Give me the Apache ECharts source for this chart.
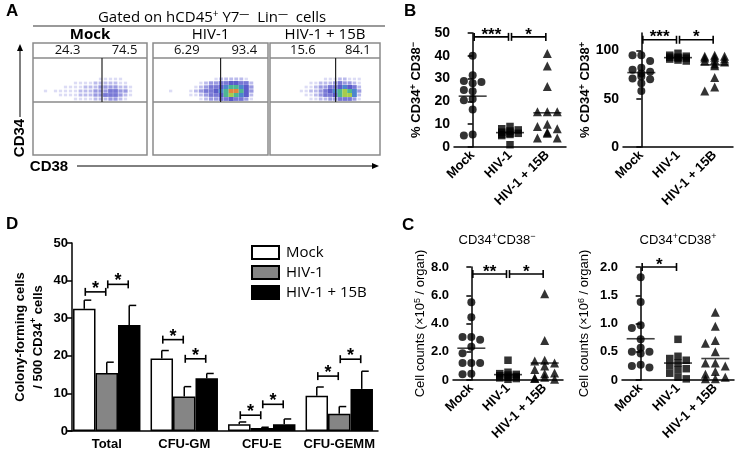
<!DOCTYPE html>
<html><head><meta charset="utf-8">
<script src="https://cdn.jsdelivr.net/npm/echarts@6/dist/echarts.min.js"></script>
<style>html,body{margin:0;padding:0;background:#fff}#c{width:737px;height:452px}</style>
</head><body><div id="c"></div><script>
// ================= DATA =================
const groups = ['Mock', 'HIV-1', 'HIV-1 + 15B'];

// Panel A: flow cytometry (quadrant percentages, CD38 gate, density read per bin, 0-9)
const flowPercents = [[24.3, 74.5], [6.29, 93.4], [15.6, 84.1]];
const flowGateX = [69, 67, 68];
const flowGateY = 53;
const flowStripY = 97;
const flowDensityMock = [
  '0000000000000111110000',
  '0000000011112222211000',
  '0000001111222333322100',
  '0010111112223334433100',
  '0000011112223344432100',
  '0000000011112223321000'];
const flowDensityHIV = [
  '0000000000001222221000',
  '0000000001233445544200',
  '0000000012344567765300',
  '0001000123445679975300',
  '0000000112344578765200',
  '0000000001233445443100'];
const flowDensity15B = [
  '0000000000011122111000',
  '0000000011222343321000',
  '0000000112334456542000',
  '0000001122345678763000',
  '0000000112344578862000',
  '0000000011223344431000'];

// Panel B: % CD34+ CD38- and % CD34+ CD38+
const pctNegMock = [40, 31.5, 29, 28.5, 28, 25, 24.5, 21, 20.5, 16.5, 5.5, 5];
const pctNegHIV = [9, 8, 7.5, 7, 6.5, 6, 6, 5.5, 5.5, 5, 1];
const pctNeg15B = [41, 35.5, 26.5, 15.5, 15.5, 15.5, 10, 9, 8, 6.5, 6, 4, 4];
const pctNegMean = [22.3, 6.3, 15];
const pctNegSig = [[0, 1, 48.3], [1, 2, 48.3]];
const pctNegSigText = ['***', '*'];

const pctPosMock = [95, 95, 89, 82, 80, 78, 76, 73, 71, 70, 66, 58];
const pctPosHIV = [97, 95, 94, 93, 93, 92, 92, 91, 90, 89];
const pctPos15B = [95, 94, 94, 93, 92, 91, 90, 89, 88, 86, 84, 72, 62, 58];
const pctPosMean = [77, 92.5, 85];
const pctPosSig = [[0, 1, 111], [1, 2, 111]];
const pctPosSigText = ['***', '*'];

// Panel C: cell counts
const cntNegMock = [5.5, 4.45, 3.05, 3.05, 2.85, 2.35, 1.9, 1.2, 1.2, 1.2, 0.45, 0.4];
const cntNegHIV = [1.4, 0.55, 0.45, 0.4, 0.35, 0.3, 0.25, 0.2, 0.15, 0.1, 0.05];
const cntNeg15B = [6.1, 2.8, 1.4, 1.35, 1.2, 1.0, 0.75, 0.5, 0.45, 0.2, 0.15, 0.1, 0.05];
const cntNegMean = [2.25, 0.38, 1.2];
const cntNegSig = [[0, 1, 7.5], [1, 2, 7.5]];
const cntNegSigText = ['**', '*'];

const cntPosMock = [1.82, 1.38, 0.97, 0.92, 0.72, 0.57, 0.5, 0.5, 0.47, 0.27, 0.25, 0.22];
const cntPosHIV = [0.72, 0.42, 0.38, 0.35, 0.3, 0.25, 0.2, 0.18, 0.12, 0.05, 0.02];
const cntPos15B = [1.2, 0.95, 0.7, 0.65, 0.5, 0.3, 0.3, 0.25, 0.15, 0.1, 0.05, 0.02, 0.02];
const cntPosMean = [0.73, 0.3, 0.38];
const cntPosSig = [[0, 1, 2.0]];
const cntPosSigText = ['*'];

// Panel D: colony-forming cells (mean, SEM)
const cfuCategories = ['Total', 'CFU-GM', 'CFU-E', 'CFU-GEMM'];
const cfuMock = [32.5, 19.3, 1.8, 9.4];
const cfuMockSem = [2.3, 2.1, 0.6, 2.3];
const cfuHIV = [15.4, 9.2, 0.8, 4.6];
const cfuHIVSem = [2.9, 2.6, 0.2, 1.9];
const cfu15B = [28.2, 14.0, 1.8, 11.2];
const cfu15BSem = [5.2, 1.3, 1.4, 4.7];
const cfuSig = [[0, 0, 1, 37], [0, 1, 2, 39], [1, 0, 1, 24.3], [1, 1, 2, 19.2],
                [2, 0, 1, 4.2], [2, 1, 2, 7.1], [3, 0, 1, 14.6], [3, 1, 2, 19.1]];

// ================= LAYOUT / STYLE =================
const FF = "'Liberation Sans', Arial, sans-serif";
const FF2 = "'Open Sans', 'Liberation Sans', sans-serif";
const flowPalette = ['', '#d8d8f4', '#b4b4ea', '#8e8ede', '#6868d0', '#4a4ac4', '#3a78c8', '#3aae86', '#9cc63a', '#e0782a'];
const flowLayout = {top: 43, height: 112, boxes: [{left: 33, width: 114}, {left: 153, width: 115}, {left: 270, width: 110}]};
const flowRange = {x: 114, y: 112};
const dotPanels = [
  {left: 454, top: 33, width: 112, height: 114, max: 50, ticks: [0, 10, 20, 30, 40, 50], fmt: v => String(v), fs: 14, nameGap: 30,
   name: '% CD34{sp|+} CD38{sp|−}', data: [pctNegMock, pctNegHIV, pctNeg15B], mean: pctNegMean, sig: pctNegSig, sigText: pctNegSigText, nameBold: true},
  {left: 623, top: 33, width: 110, height: 114, max: 118, ticks: [0, 50, 100], fmt: v => String(v), fs: 14, nameGap: 27,
   name: '% CD34{sp|+} CD38{sp|+}', data: [pctPosMock, pctPosHIV, pctPos15B], mean: pctPosMean, sig: pctPosSig, sigText: pctPosSigText, nameBold: true},
  {left: 453, top: 267, width: 110, height: 113, max: 8, ticks: [0, 2, 4, 6, 8], fmt: v => v === 0 ? '0' : v.toFixed(1), fs: 13, nameGap: 23,
   name: 'Cell counts (×10{sp|5} / organ)', data: [cntNegMock, cntNegHIV, cntNeg15B], mean: cntNegMean, sig: cntNegSig, sigText: cntNegSigText, nameBold: false},
  {left: 622, top: 267, width: 112, height: 113, max: 2, ticks: [0, 0.5, 1, 1.5, 2], fmt: v => v === 0 ? '0' : v.toFixed(1), fs: 13, nameGap: 30,
   name: 'Cell counts (×10{sp|6} / organ)', data: [cntPosMock, cntPosHIV, cntPos15B], mean: cntPosMean, sig: cntPosSig, sigText: cntPosSigText, nameBold: false}
];
const symbols = ['circle', 'rect', 'triangle'];
const symSizes = [8, 7.5, 9];
const D = {left: 68, top: 243, width: 310, height: 188, catGap: 0.13};

// ================= BUILD =================
const grid = [], xAxis = [], yAxis = [], series = [];
const gridBase = {containLabel: false, outerBoundsMode: 'none'};

// --- Panel A
const flowDens = [flowDensityMock, flowDensityHIV, flowDensity15B];
flowLayout.boxes.forEach((b, p) => {
  grid.push(Object.assign({left: b.left, top: flowLayout.top, width: b.width, height: flowLayout.height,
    show: true, borderColor: '#8a8a8a', borderWidth: 1.5, backgroundColor: '#fff'}, gridBase));
  xAxis.push({gridIndex: p, type: 'value', min: 0, max: flowRange.x, show: false});
  yAxis.push({gridIndex: p, type: 'value', min: 0, max: flowRange.y, show: false});
  const cells = [];
  flowDens[p].forEach((row, r) => {
    for (let c = 0; c < row.length; c++) {
      const d = +row[c];
      if (d > 0) cells.push([c * 5 + 2.5, 76 - r * 4, d]);
    }
  });
  const sx = 5 * b.width / flowRange.x, sy = 4 * flowLayout.height / flowRange.y;
  series.push({type: 'scatter', xAxisIndex: p, yAxisIndex: p, symbol: 'rect',
    symbolSize: v => { const f = Math.min(1, 0.55 + 0.1 * v[2]); return [sx * f, sy * f]; },
    data: cells, silent: true, itemStyle: {color: prm => flowPalette[prm.data[2]], opacity: 0.9}});
  const gx = flowGateX[p];
  const pcts = flowPercents[p];
  series.push({type: 'custom', xAxisIndex: p, yAxisIndex: p, clip: false, silent: true, z: 5,
    data: [[gx, flowGateY, flowStripY]],
    renderItem(params, api) {
      const g = api.value(0), gy = api.value(1), sy2 = api.value(2);
      const s0 = api.coord([0, sy2]), s1 = api.coord([flowRange.x, sy2]);
      const h0 = api.coord([0, gy]), h1 = api.coord([flowRange.x, gy]);
      const v0 = api.coord([g, gy]), v1 = api.coord([g, sy2]);
      const tl = api.coord([g / 2, (sy2 + flowRange.y) / 2]);
      const tr = api.coord([(g + flowRange.x) / 2, (sy2 + flowRange.y) / 2]);
      const ts = {font: '13px ' + FF2, fill: '#111', align: 'center', verticalAlign: 'middle'};
      return {type: 'group', children: [
        {type: 'line', shape: {x1: s0[0], y1: s0[1], x2: s1[0], y2: s1[1]}, style: {stroke: '#8a8a8a', lineWidth: 1.5}},
        {type: 'line', shape: {x1: h0[0], y1: h0[1], x2: h1[0], y2: h1[1]}, style: {stroke: '#8a8a8a', lineWidth: 1.5}},
        {type: 'line', shape: {x1: v0[0], y1: v0[1], x2: v1[0], y2: v1[1]}, style: {stroke: '#222', lineWidth: 1.2}},
        {type: 'text', x: tl[0], y: tl[1], style: Object.assign({text: String(pcts[0])}, ts)},
        {type: 'text', x: tr[0], y: tr[1], style: Object.assign({text: String(pcts[1])}, ts)}
      ]};
    }});
});

// --- beeswarm helper (horizontal spread only where points would collide)
function swarm(vals, cat, pxPerY, pxPerX, size) {
  const placed = [], out = [];
  const order = vals.map((v, i) => i).sort((a, b) => vals[b] - vals[a]);
  const step = size * 1.1;
  const cand = [0, -1, 1];
  order.forEach(i => {
    const py = vals[i] * pxPerY;
    let best = 0, bestC = Infinity;
    for (const k of cand) {
      const dx = k * step;
      let c = 0;
      placed.forEach(p => { if (Math.abs(p.dx - dx) < size * 0.9 && Math.abs(p.py - py) < size * 0.9) c++; });
      if (c === 0) { best = dx; bestC = 0; break; }
      if (c < bestC) { bestC = c; best = dx; }
    }
    placed.push({dx: best, py});
    out.push([cat + best / pxPerX, vals[i]]);
  });
  return out;
}

// --- Panels B & C
dotPanels.forEach((P, k) => {
  const gi = grid.length;
  grid.push(Object.assign({left: P.left, top: P.top, width: P.width, height: P.height}, gridBase));
  xAxis.push({gridIndex: gi, type: 'category', data: groups, boundaryGap: true,
    axisLine: {lineStyle: {color: '#000', width: 1.5}}, axisTick: {show: false},
    axisLabel: {rotate: 45, margin: 6, interval: 0, color: '#000', fontSize: 13, fontWeight: 'bold', fontFamily: FF}});
  const xVal = xAxis.length;
  xAxis.push({gridIndex: gi, type: 'value', min: -0.5, max: 2.5, show: false});
  const yi = yAxis.length;
  yAxis.push({gridIndex: gi, type: 'value', min: 0, max: P.max, splitLine: {show: false},
    axisLine: {show: true, lineStyle: {color: '#000', width: 1.5}},
    axisTick: {show: true, length: 5, lineStyle: {color: '#000', width: 1.5}, customValues: P.ticks},
    axisLabel: {color: '#000', fontSize: P.fs, fontWeight: 'bold', fontFamily: FF, margin: 4, customValues: P.ticks, formatter: P.fmt},
    name: P.name, nameLocation: 'middle', nameGap: P.nameGap,
    nameTextStyle: {color: '#000', fontSize: 13, fontWeight: P.nameBold ? 'bold' : 'normal', fontFamily: FF,
      rich: {sp: {fontSize: 9, fontWeight: P.nameBold ? 'bold' : 'normal', fontFamily: FF, verticalAlign: 'top', padding: [0, 0, 6, 0]}}}});
  const pxPerY = P.height / P.max, pxPerX = P.width / 3;
  series.push({type: 'scatter', xAxisIndex: xVal, yAxisIndex: yi, symbol: 'rect', symbolSize: [28, 1.6], clip: false, silent: true,
    itemStyle: {color: '#111'}, z: 2, data: P.mean.map((m, i) => [i, m])});
  P.data.forEach((vals, g) => {
    series.push({type: 'scatter', xAxisIndex: xVal, yAxisIndex: yi, symbol: symbols[g], symbolSize: symSizes[g], clip: false, silent: true,
      itemStyle: {color: '#000'}, z: 3, data: swarm(vals, g, pxPerY, pxPerX, symSizes[g])});
  });
  const txt = P.sigText;
  series.push({type: 'custom', xAxisIndex: xVal, yAxisIndex: yi, clip: false, silent: true, z: 4, data: P.sig,
    renderItem(params, api) {
      const y = api.value(2);
      const a = api.coord([api.value(0), y]), b = api.coord([api.value(1), y]);
      const x1 = a[0] + 1.5, x2 = b[0] - 1.5, yy = a[1];
      return {type: 'group', children: [
        {type: 'line', shape: {x1, y1: yy, x2, y2: yy}, style: {stroke: '#000', lineWidth: 1.6}},
        {type: 'line', shape: {x1, y1: yy - 4, x2: x1, y2: yy + 4}, style: {stroke: '#000', lineWidth: 1.6}},
        {type: 'line', shape: {x1: x2, y1: yy - 4, x2, y2: yy + 4}, style: {stroke: '#000', lineWidth: 1.6}},
        {type: 'text', x: (x1 + x2) / 2, y: yy - 2, style: {text: txt[params.dataIndex], font: 'bold 17px ' + FF, fill: '#000', align: 'center', verticalAlign: 'middle'}}
      ]};
    }});
});

// --- Panel D
const dg = grid.length;
grid.push(Object.assign({left: D.left, top: D.top, width: D.width, height: D.height}, gridBase));
const dx = xAxis.length;
xAxis.push({gridIndex: dg, type: 'category', data: cfuCategories,
  axisLine: {lineStyle: {color: '#000', width: 1.5}}, axisTick: {show: false},
  axisLabel: {interval: 0, hideOverlap: false, color: '#000', fontSize: 13, fontWeight: 'bold', fontFamily: FF, margin: 7}});
const dy = yAxis.length;
yAxis.push({gridIndex: dg, type: 'value', min: 0, max: 50, interval: 10, offset: -4, splitLine: {show: false},
  axisLine: {show: true, lineStyle: {color: '#000', width: 1.5}},
  axisTick: {show: true, length: 5, lineStyle: {color: '#000', width: 1.5}},
  axisLabel: {color: '#000', fontSize: 13, fontWeight: 'bold', fontFamily: FF, margin: 4},
  name: 'Colony-forming cells\n/ 500 CD34{sp|+} cells', nameLocation: 'middle', nameGap: 25,
  nameTextStyle: {color: '#000', fontSize: 13, fontWeight: 'bold', fontFamily: FF, lineHeight: 18,
    rich: {sp: {fontSize: 9, fontWeight: 'bold', fontFamily: FF, verticalAlign: 'top', padding: [0, 0, 6, 0]}}}});
const barStyles = [
  {color: '#fff', borderColor: '#000', borderWidth: 1.5},
  {color: '#858585', borderColor: '#000', borderWidth: 1.5},
  {color: '#000', borderColor: '#000', borderWidth: 1.5}];
const barVals = [cfuMock, cfuHIV, cfu15B];
const barSems = [cfuMockSem, cfuHIVSem, cfu15BSem];
groups.forEach((g, j) => {
  series.push({type: 'bar', name: g, xAxisIndex: dx, yAxisIndex: dy, data: barVals[j], barGap: '0%',
    barCategoryGap: (D.catGap * 100) + '%', itemStyle: barStyles[j], silent: true, z: 2});
});
function barOffset(api, j) {
  const band = api.size([1, 0])[0];
  const bw = band * (1 - D.catGap) / 3;
  return (j - 1) * bw;
}
groups.forEach((g, j) => {
  series.push({type: 'custom', xAxisIndex: dx, yAxisIndex: dy, clip: false, silent: true, z: 3,
    data: barVals[j].map((v, i) => [i, v, v + barSems[j][i]]),
    renderItem(params, api) {
      const c0 = api.coord([api.value(0), api.value(1)]);
      const c1 = api.coord([api.value(0), api.value(2)]);
      const x = c0[0] + barOffset(api, j);
      return {type: 'group', children: [
        {type: 'line', shape: {x1: x, y1: c0[1], x2: x, y2: c1[1]}, style: {stroke: '#000', lineWidth: 1.5}},
        {type: 'line', shape: {x1: x, y1: c1[1], x2: x + 7, y2: c1[1]}, style: {stroke: '#000', lineWidth: 1.5}}
      ]};
    }});
});
series.push({type: 'custom', xAxisIndex: dx, yAxisIndex: dy, clip: false, silent: true, z: 4, data: cfuSig,
  renderItem(params, api) {
    const cat = api.value(0);
    const c = api.coord([cat, api.value(3)]);
    const x1 = c[0] + barOffset(api, api.value(1)) + 1, x2 = c[0] + barOffset(api, api.value(2)) - 1, yy = c[1];
    return {type: 'group', children: [
      {type: 'line', shape: {x1, y1: yy, x2, y2: yy}, style: {stroke: '#000', lineWidth: 1.6}},
      {type: 'line', shape: {x1, y1: yy - 4, x2: x1, y2: yy + 4}, style: {stroke: '#000', lineWidth: 1.6}},
      {type: 'line', shape: {x1: x2, y1: yy - 4, x2, y2: yy + 4}, style: {stroke: '#000', lineWidth: 1.6}},
      {type: 'text', x: (x1 + x2) / 2, y: yy - 3, style: {text: '*', font: 'bold 18px ' + FF, fill: '#000', align: 'center', verticalAlign: 'middle'}}
    ]};
  }});

// --- decorations / texts
const supA = {sp: {fontSize: 10, fontFamily: FF2, verticalAlign: 'top', padding: [0, 0, 7, 0], fill: '#000'}};
const supC = {sp: {fontSize: 9, fontFamily: FF, verticalAlign: 'top', padding: [0, 0, 6, 0]}};
const graphic = [
  {type: 'text', x: 6, y: 3, style: {text: 'A', font: 'bold 17px ' + FF, fill: '#000'}},
  {type: 'text', x: 404, y: 3, style: {text: 'B', font: 'bold 17px ' + FF, fill: '#000'}},
  {type: 'text', x: 402, y: 217, style: {text: 'C', font: 'bold 17px ' + FF, fill: '#000'}},
  {type: 'text', x: 6, y: 216, style: {text: 'D', font: 'bold 17px ' + FF, fill: '#000'}},
  {type: 'text', x: 212, y: 18, style: {text: 'Gated on hCD45{sp|+} Y7{sp|—}  Lin{sp|—}  cells', font: '15px ' + FF2, fill: '#000',
    align: 'center', verticalAlign: 'middle', rich: supA}},
  {type: 'line', shape: {x1: 33, y1: 26, x2: 385, y2: 26}, style: {stroke: '#777', lineWidth: 1.5}},
  {type: 'text', x: 20, y: 138, rotation: Math.PI / 2, style: {text: 'CD34', font: 'bold 15px ' + FF, fill: '#000', align: 'center', verticalAlign: 'middle'}},
  {type: 'line', shape: {x1: 20, y1: 117, x2: 20, y2: 49}, style: {stroke: '#000', lineWidth: 1}},
  {type: 'polygon', shape: {points: [[17, 51], [23, 51], [20, 44]]}, style: {fill: '#000'}},
  {type: 'text', x: 49, y: 167, style: {text: 'CD38', font: 'bold 15px ' + FF, fill: '#000', align: 'center', verticalAlign: 'middle'}},
  {type: 'line', shape: {x1: 77, y1: 166, x2: 374, y2: 166}, style: {stroke: '#000', lineWidth: 1}},
  {type: 'polygon', shape: {points: [[372, 163], [372, 169], [379, 166]]}, style: {fill: '#000'}},
  {type: 'text', x: 497, y: 240, style: {text: 'CD34{sp|+}CD38{sp|−}', font: '13px ' + FF, fill: '#000', align: 'center', verticalAlign: 'middle', rich: supC}},
  {type: 'text', x: 678, y: 240, style: {text: 'CD34{sp|+}CD38{sp|+}', font: '13px ' + FF, fill: '#000', align: 'center', verticalAlign: 'middle', rich: supC}}
];
flowLayout.boxes.forEach((b, p) => {
  graphic.push({type: 'text', x: b.left + b.width / 2, y: 35, style: {text: groups[p], font: (p === 0 ? 'bold ' : '') + '15px ' + FF2,
    fill: '#000', align: 'center', verticalAlign: 'middle'}});
});

const option = {
  animation: false,
  backgroundColor: '#fff',
  textStyle: {fontFamily: FF},
  grid, xAxis, yAxis, series, graphic,
  legend: {data: groups, orient: 'vertical', left: 246, top: 240, itemWidth: 27, itemHeight: 13, itemGap: 5,
    icon: 'rect', selectedMode: false,
    textStyle: {fontSize: 15, fontFamily: FF2, color: '#000', padding: [0, 0, 0, 2]}}
};
const chart = echarts.init(document.getElementById('c'));
chart.setOption(option);
</script></body></html>
